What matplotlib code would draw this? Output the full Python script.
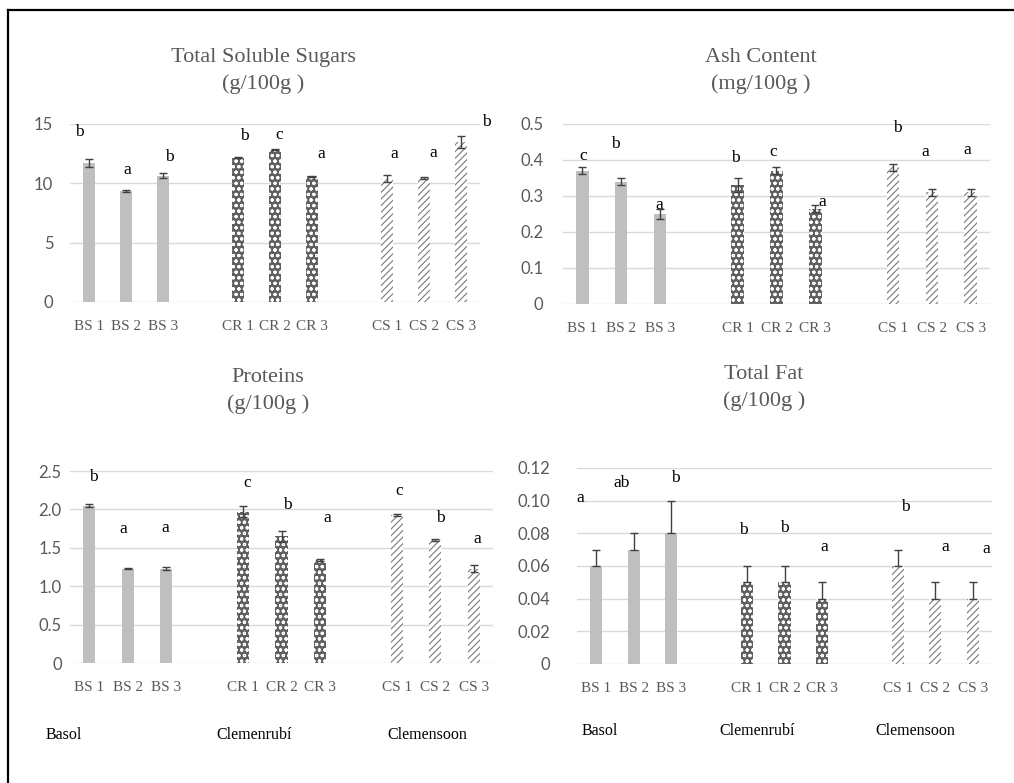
import numpy as np
import matplotlib
matplotlib.use('Agg')
import matplotlib.pyplot as plt
from matplotlib.lines import Line2D

samples = ['BS 1', 'BS 2', 'BS 3', 'CR 1', 'CR 2', 'CR 3', 'CS 1', 'CS 2', 'CS 3']
cultivars = ['Basol', 'Clemenrubí', 'Clemensoon']

sugars = [11.7, 9.35, 10.65, 12.15, 12.85, 10.6, 10.4, 10.45, 13.5]
sugars_err = [0.35, 0.05, 0.2, 0.05, 0.08, 0.05, 0.3, 0.05, 0.5]
sugars_letters = ['b', 'a', 'b', 'b', 'c', 'a', 'a', 'a', 'b']

ash = [0.37, 0.34, 0.25, 0.33, 0.37, 0.265, 0.38, 0.31, 0.31]
ash_err = [0.01, 0.01, 0.015, 0.02, 0.01, 0.01, 0.01, 0.01, 0.01]
ash_letters = ['c', 'b', 'a', 'b', 'c', 'a', 'b', 'a', 'a']

proteins = [2.05, 1.23, 1.23, 1.97, 1.65, 1.34, 1.93, 1.6, 1.23]
proteins_err = [0.02, 0.01, 0.02, 0.07, 0.07, 0.01, 0.01, 0.01, 0.05]
proteins_letters = ['b', 'a', 'a', 'c', 'b', 'a', 'c', 'b', 'a']

fat = [0.06, 0.07, 0.08, 0.05, 0.05, 0.04, 0.06, 0.04, 0.04]
fat_err = [0.01, 0.01, 0.02, 0.01, 0.01, 0.01, 0.01, 0.01, 0.01]
fat_letters = ['a', 'ab', 'b', 'b', 'b', 'a', 'b', 'a', 'a']

# where the letters sit (x shift in bar slots, height in data units)
sugars_ldx = [-0.26, 0.03, 0.16, 0.19, 0.10, 0.23, 0.21, 0.24, 0.68]
sugars_ly = [14.3, 11.1, 12.2, 14.0, 14.1, 12.5, 12.5, 12.55, 15.2]
ash_ldx = [0.02, -0.16, -0.03, -0.07, -0.09, 0.18, 0.11, -0.17, -0.09]
ash_ly = [0.411, 0.444, 0.275, 0.406, 0.422, 0.283, 0.489, 0.422, 0.428]
proteins_ldx = [0.12, -0.12, -0.03, 0.12, 0.16, 0.2, 0.07, 0.14, 0.1]
proteins_ly = [2.42, 1.745, 1.76, 2.35, 2.06, 1.89, 2.24, 1.89, 1.61]
fat_ldx = [-0.42, -0.31, 0.1, -0.1, -0.01, 0.05, 0.2, 0.26, 0.35]
fat_ly = [0.1017, 0.111, 0.114, 0.0823, 0.083, 0.0717, 0.0962, 0.0717, 0.0707]

SERIF = ['Liberation Serif', 'DejaVu Serif']
SANS = ['Lato', 'DejaVu Sans']
GREY = '#595959'
W, H = 1014, 783

plt.rcParams['hatch.linewidth'] = 0.8

pos = np.array([0, 1, 2, 4, 5, 6, 8, 9, 10])
styles = [dict(color='#bfbfbf')] * 3 + \
         [dict(facecolor='#606060', edgecolor='white', hatch='ooo')] * 3 + \
         [dict(facecolor='white', edgecolor='#7a7a7a', hatch='/////')] * 3


def px_axes(fig, x0, x1, ytop, ybot):
    return fig.add_axes([x0 / W, 1 - ybot / H, (x1 - x0) / W, (ybot - ytop) / H])


def draw_panel(ax, vals, err, letters, ldx, ly, ticks, ticklabels, ypad, upper=False):
    for p, v, st in zip(pos, vals, styles):
        ax.bar(p, v, width=0.32, linewidth=0, **st)
    if upper:
        yerr = [np.zeros(len(err)), err]
    else:
        yerr = err
    ax.errorbar(pos, vals, yerr=yerr, fmt='none', ecolor='#404040',
                elinewidth=1, capsize=3, capthick=1)
    for p, t, dx, y in zip(pos, letters, ldx, ly):
        ax.text(p + dx, y, t, ha='center', va='center', fontsize=12.5,
                family=SERIF, color='black', clip_on=False)
    ax.set_xlim(-0.5, 10.5)
    ax.set_ylim(ticks[0], ticks[-1])
    ax.set_yticks(ticks, ticklabels, family=SANS, fontsize=12, color=GREY)
    ax.set_xticks(pos, samples, family=SERIF, fontsize=11, color=GREY)
    ax.tick_params(axis='both', length=0)
    ax.tick_params(axis='x', pad=13)
    ax.tick_params(axis='y', pad=ypad)
    ax.yaxis.grid(True, color='#d9d9d9', lw=1)
    ax.set_axisbelow(True)
    for s in ax.spines.values():
        s.set_visible(False)


fig = plt.figure(figsize=(W / 100, H / 100), dpi=100)

ax1 = px_axes(fig, 70, 480, 124, 302)
draw_panel(ax1, sugars, sugars_err, sugars_letters, sugars_ldx, sugars_ly,
           [0, 5, 10, 15], ['0', '5', '10', '15'], 12)

ax2 = px_axes(fig, 563, 990, 124, 304)
draw_panel(ax2, ash, ash_err, ash_letters, ash_ldx, ash_ly,
           [0, 0.1, 0.2, 0.3, 0.4, 0.5], ['0', '0.1', '0.2', '0.3', '0.4', '0.5'], 14)

ax3 = px_axes(fig, 70, 493, 471, 663)
draw_panel(ax3, proteins, proteins_err, proteins_letters, proteins_ldx, proteins_ly,
           [0, 0.5, 1.0, 1.5, 2.0, 2.5], ['0', '0.5', '1.0', '1.5', '2.0', '2.5'], 6)

ax4 = px_axes(fig, 577, 992, 468, 664)
draw_panel(ax4, fat, fat_err, fat_letters, fat_ldx, fat_ly,
           [0, 0.02, 0.04, 0.06, 0.08, 0.10, 0.12],
           ['0', '0.02', '0.04', '0.06', '0.08', '0.10', '0.12'], 19, upper=True)

titles = [('Total Soluble Sugars\n(g/100g )', 263, 71),
          ('Ash Content\n(mg/100g )', 761, 71),
          ('Proteins\n(g/100g )', 268, 391),
          ('Total Fat\n(g/100g )', 764, 388)]
for txt, x, y in titles:
    fig.text(x / W, 1 - y / H, txt, ha='center', va='center', fontsize=16,
             family=SERIF, color=GREY, linespacing=1.45)

# cultivar names under the bottom row
group_x_left = [-0.66, 4.3, 8.8]
group_x_right = [0.11, 4.27, 8.47]
for ax, gx, gy in [(ax3, group_x_left, -0.375), (ax4, group_x_right, -0.344)]:
    for x, name in zip(gx, cultivars):
        ax.text(x, gy, name, transform=ax.get_xaxis_transform(), ha='center',
                va='center', fontsize=11.5, family=SERIF, color='black')

# frame (top and left edges only)
fig.add_artist(Line2D([8 / W, 1], [1 - 10 / H, 1 - 10 / H], color='black', lw=1.6))
fig.add_artist(Line2D([8 / W, 8 / W], [0, 1 - 10 / H], color='black', lw=1.6))

fig.savefig('out.png', dpi=100)
